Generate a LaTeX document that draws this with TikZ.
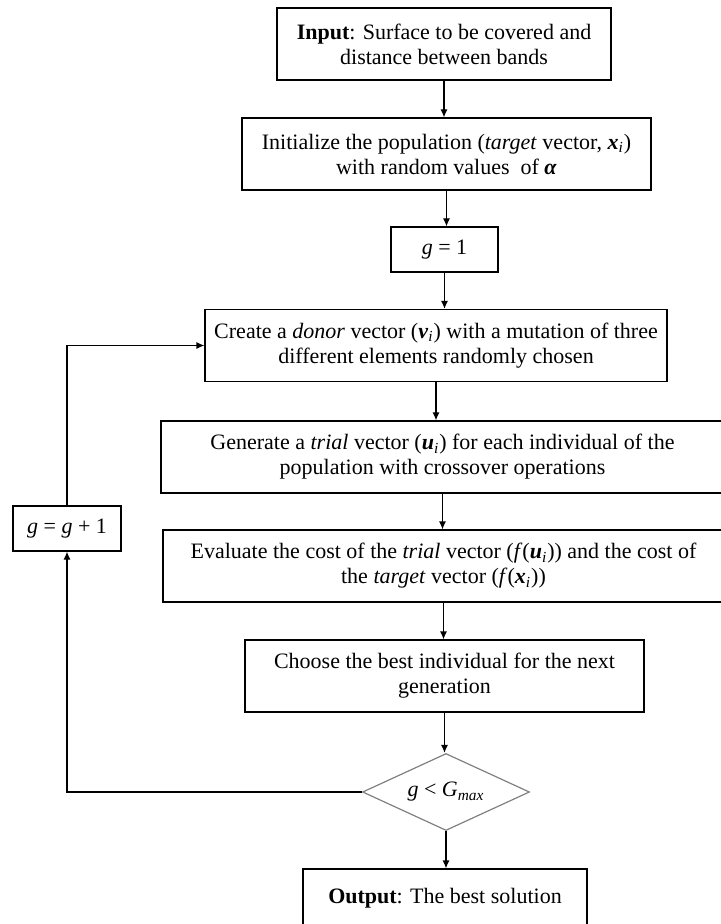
\documentclass[tikz,border=0pt]{standalone}
\usepackage{fontspec}
\setmainfont{Liberation Serif}
\usepackage{tikz}
\usetikzlibrary{shapes}
\usetikzlibrary{positioning}
\usetikzlibrary{arrows.meta}

\newcommand{\bvi}[1]{\textbf{\textit{#1}}\textsubscript{\textit{i}}}

\tikzset{
  stepbox/.style={draw, line width=.6pt, align=center, inner sep=0pt,
    minimum height=36pt, font=\fontsize{11pt}{12.5pt}\selectfont},
  testbox/.style={draw=gray, line width=.6pt, diamond, aspect=2.17, inner sep=0pt,
    minimum width=83.5pt, minimum height=38.5pt, font=\fontsize{11pt}{12.5pt}\selectfont},
  arr/.style={line width=.6pt, -{Latex[length=4pt,width=3.5pt]}}
}

\begin{document}
\begin{tikzpicture}[x=0.5pt,y=-0.5pt]
\useasboundingbox (0,0) rectangle (721,924);
\node[stepbox, minimum width=167pt] (input) at (444,44)
  {\textbf{Input}: Surface to be covered and\\ distance between bands};
\node[stepbox, minimum width=204.5pt] (init) at (446.5,154)
  {Initialize the population (\textit{target} vector, \bvi{x})\\ with random values~ of \textbf{\textit{α}}};
\node[stepbox, minimum width=53.5pt, minimum height=22.5pt] (gone) at (444.5,249.5)
  {\textit{g} = 1};
\node[stepbox, minimum width=231pt] (donor) at (436,345.5)
  {Create a \textit{donor} vector (\bvi{v}) with a mutation of three\\ different elements randomly chosen};
\node[stepbox, minimum width=281.5pt] (trial) at (442.5,457)
  {Generate a \textit{trial} vector (\bvi{u}) for each individual of the\\ population with crossover operations};
\node[stepbox, minimum width=280.5pt] (cost) at (443.5,566)
  {Evaluate the cost of the \textit{trial} vector (\textit{f}(\bvi{u})) and the cost of\\ the \textit{target} vector (\textit{f}(\bvi{x}))};
\node[stepbox, minimum width=199.5pt] (choose) at (444.5,676)
  {Choose the best individual for the next\\ generation};
\node[testbox] (test) at (446,792)
  {\textit{g} < \textit{G}\textsubscript{\textit{max}}};
\node[stepbox, minimum width=142pt, minimum height=0pt, text height=17pt, text depth=12pt,
  anchor=base] (output) at (445,903)
  {\textbf{Output}: The best solution};
\node[stepbox, minimum width=54pt, minimum height=22.5pt] (ginc) at (67,528.5)
  {\textit{g} = \textit{g} + 1};

% main flow
\draw[arr] (input) -- (input |- init.north);
\draw[arr] (init) -- (init |- gone.north);
\draw[arr] (gone) -- (gone |- donor.north);
\draw[arr] (donor) -- (donor |- trial.north);
\draw[arr] (trial) -- (trial |- cost.north);
\draw[arr] (cost) -- (cost |- choose.north);
\draw[arr] (choose) -- (choose |- test.north);
\draw[arr] (test) -- (test |- output.north);

% loop back
\draw[arr] (test.west) -| (ginc.south);
\draw[arr] (ginc.north) |- (donor.west);
\end{tikzpicture}
\end{document}
